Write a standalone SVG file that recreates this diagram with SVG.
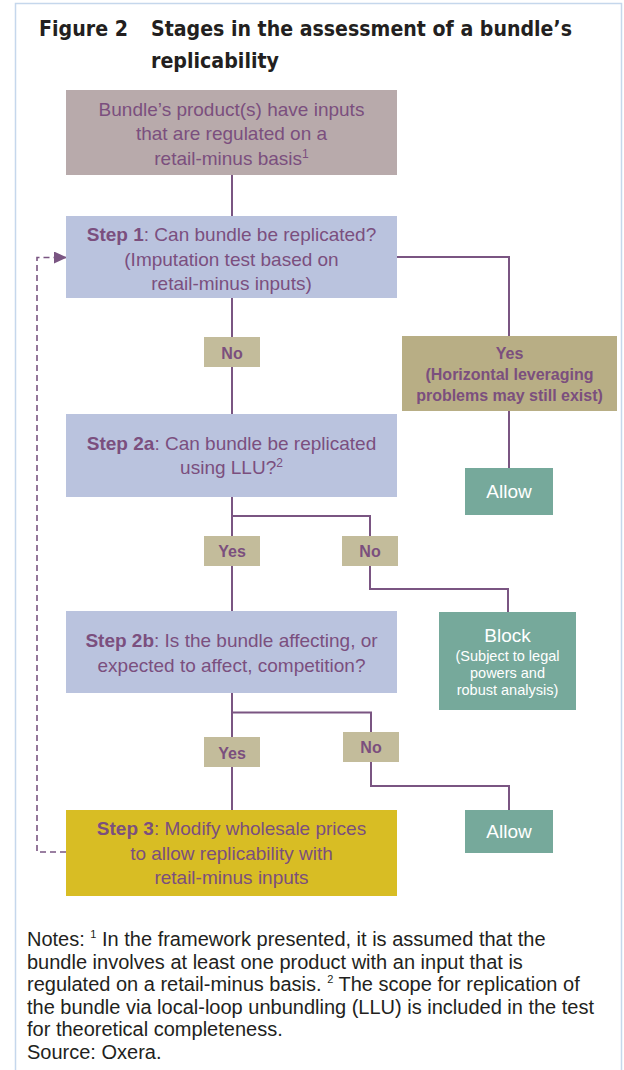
<svg xmlns="http://www.w3.org/2000/svg" width="624" height="1070" viewBox="0 0 624 1070">
<defs>
<marker id="arr" markerWidth="13" markerHeight="12" refX="12" refY="6" orient="auto" markerUnits="userSpaceOnUse">
<path d="M0,0 L13,6 L0,12 Z" fill="#7a5582"/>
</marker>
<style>
.title{font-family:"DejaVu Sans Condensed","DejaVu Sans",sans-serif;font-stretch:condensed;font-weight:bold;font-size:20.5px;fill:#231f20}
.bt{font-family:"Liberation Sans",Arial,sans-serif;font-size:19px;fill:#7b4f7e;text-anchor:middle}
.b{font-weight:bold}
.lb{font-family:"Liberation Sans",Arial,sans-serif;font-size:16px;font-weight:bold;fill:#7b4f7e;text-anchor:middle}
.wt{font-family:"Liberation Sans",Arial,sans-serif;font-size:19px;fill:#ffffff;text-anchor:middle}
.ws{font-family:"Liberation Sans",Arial,sans-serif;font-size:14.5px;fill:#ffffff;text-anchor:middle}
.note{font-family:"Liberation Sans",Arial,sans-serif;font-size:20px;fill:#231f20}
.step{fill:#bac3de}
.lab{fill:#c3bc9b}
.grn{fill:#76a99b}
.ln{fill:none;stroke:#7a5582;stroke-width:2}
.dash{fill:none;stroke:#7a5582;stroke-width:1.6;stroke-dasharray:6,4}
</style>
</defs>
<rect x="15.5" y="3.5" width="606" height="1080" fill="#ffffff" stroke="#c5d7ec" stroke-width="1.5"/>
<g id="title">
<text class="title" x="39" y="36" textLength="89" lengthAdjust="spacingAndGlyphs">Figure 2</text>
<text class="title" x="151" y="36" textLength="421" lengthAdjust="spacingAndGlyphs">Stages in the assessment of a bundle’s</text>
<text class="title" x="151" y="68" textLength="128" lengthAdjust="spacingAndGlyphs">replicability</text>
</g>
<g id="connectors">
<path class="ln" d="M232,175 V216"/>
<path class="ln" d="M397,257 H509 V336"/>
<path class="ln" d="M509,411 V468"/>
<path class="ln" d="M232,298 V414"/>
<path class="ln" d="M232,497 V611"/>
<path class="ln" d="M232,516 H370 V536"/>
<path class="ln" d="M370,566 V589 H508 V612"/>
<path class="ln" d="M232,693 V810"/>
<path class="ln" d="M232,712.5 H371 V732"/>
<path class="ln" d="M371,762 V786 H509 V810"/>
<path class="dash" d="M66,852 H37 V257.5 H66" marker-end="url(#arr)"/>
</g>
<g id="start">
<rect x="66" y="90" width="331" height="85" fill="#b8aaab"/>
<text class="bt" x="231.5" y="116">Bundle’s product(s) have inputs</text>
<text class="bt" x="231.5" y="140">that are regulated on a</text>
<text class="bt" x="231.5" y="165">retail-minus basis<tspan font-size="12" dy="-7">1</tspan></text>
</g>
<g id="step1">
<rect class="step" x="66" y="216" width="331" height="82"/>
<text class="bt" x="231.5" y="241"><tspan class="b">Step 1</tspan>: Can bundle be replicated?</text>
<text class="bt" x="231.5" y="265.5">(Imputation test based on</text>
<text class="bt" x="231.5" y="290">retail-minus inputs)</text>
</g>
<g id="yes1">
<rect x="402" y="336" width="215" height="75" fill="#b8ae85"/>
<text class="lb" x="509.5" y="359">Yes</text>
<text class="lb" x="509.5" y="380">(Horizontal leveraging</text>
<text class="lb" x="509.5" y="401">problems may still exist)</text>
</g>
<g id="allow1">
<rect class="grn" x="465" y="468" width="88" height="47"/>
<text class="wt" x="509" y="498">Allow</text>
</g>
<g id="no1">
<rect class="lab" x="204" y="337" width="56" height="30"/>
<text class="lb" x="232" y="358.5">No</text>
</g>
<g id="step2a">
<rect class="step" x="66" y="414" width="331" height="83"/>
<text class="bt" x="231.5" y="450"><tspan class="b">Step 2a</tspan>: Can bundle be replicated</text>
<text class="bt" x="231.5" y="474">using LLU?<tspan font-size="12" dy="-7">2</tspan></text>
</g>
<g id="yes2">
<rect class="lab" x="204" y="536" width="56" height="30"/>
<text class="lb" x="232" y="557">Yes</text>
</g>
<g id="no2">
<rect class="lab" x="342" y="536" width="56" height="30"/>
<text class="lb" x="370" y="557">No</text>
</g>
<g id="block">
<rect class="grn" x="439" y="612" width="137" height="98"/>
<text class="wt" x="507.5" y="642" font-size="19.5">Block</text>
<text class="ws" x="507.5" y="661">(Subject to legal</text>
<text class="ws" x="507.5" y="678">powers and</text>
<text class="ws" x="507.5" y="695">robust analysis)</text>
</g>
<g id="step2b">
<rect class="step" x="66" y="611" width="331" height="82"/>
<text class="bt" x="231.5" y="647"><tspan class="b">Step 2b</tspan>: Is the bundle affecting, or</text>
<text class="bt" x="231.5" y="672">expected to affect, competition?</text>
</g>
<g id="yes3">
<rect class="lab" x="204" y="737" width="56" height="30"/>
<text class="lb" x="232" y="758.5">Yes</text>
</g>
<g id="no3">
<rect class="lab" x="343" y="732" width="56" height="30"/>
<text class="lb" x="371" y="753">No</text>
</g>
<g id="allow2">
<rect class="grn" x="465" y="810" width="88" height="43"/>
<text class="wt" x="509" y="838">Allow</text>
</g>
<g id="step3">
<rect x="66" y="810" width="331" height="86" fill="#d8bd24"/>
<text class="bt" x="231.5" y="835"><tspan class="b">Step 3</tspan>: Modify wholesale prices</text>
<text class="bt" x="231.5" y="859.5">to allow replicability with</text>
<text class="bt" x="231.5" y="884">retail-minus inputs</text>
</g>
<g id="notes">
<text class="note" x="27" y="946">Notes: <tspan font-size="11" dy="-8">1</tspan><tspan dy="8"> In the framework presented, it is assumed that the</tspan></text>
<text class="note" x="27" y="968.6">bundle involves at least one product with an input that is</text>
<text class="note" x="27" y="991.2">regulated on a retail-minus basis. <tspan font-size="11" dy="-8">2</tspan><tspan dy="8"> The scope for replication of</tspan></text>
<text class="note" x="27" y="1013.8">the bundle via local-loop unbundling (LLU) is included in the test</text>
<text class="note" x="27" y="1036.4">for theoretical completeness.</text>
<text class="note" x="27" y="1059">Source: Oxera.</text>
</g>
</svg>
